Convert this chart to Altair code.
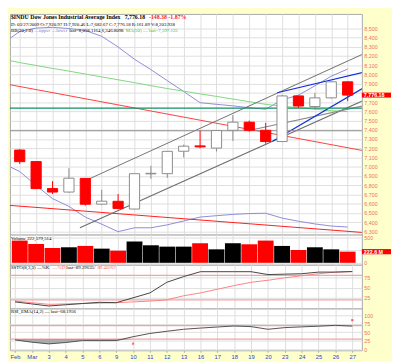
import altair as alt
import pandas as pd

# ---------------- data ----------------
labels = ["Feb", "Mar", "3", "4", "5", "6", "9", "10", "11", "12", "13",
          "16", "17", "18", "19", "20", "23", "24", "25", "26", "27"]
opens  = [7181, 7056, 6764, 6726, 6874, 6595, 6626, 6542, 6923, 6925, 7168,
          7226, 7202, 7395, 7483, 7395, 7273, 7767, 7652, 7746, 7920]
highs  = [7190, 7056, 6844, 6984, 6874, 6750, 6704, 6926, 7010, 7170, 7240,
          7392, 7397, 7560, 7500, 7476, 7780, 7770, 7800, 7925, 7925]
lows   = [7030, 6760, 6705, 6720, 6580, 6585, 6540, 6540, 6870, 6879, 7100,
          7200, 7165, 7280, 7380, 7250, 7270, 7640, 7620, 7740, 7710]
closes = [7055, 6763, 6726, 6876, 6594, 6627, 6547, 6925, 6929, 7167, 7223,
          7215, 7392, 7483, 7395, 7273, 7767, 7658, 7746, 7920, 7776.18]
volumes_m = [444, 377, 296, 310, 337, 283, 242, 424, 350, 323, 323,
             391, 269, 391, 370, 444, 337, 256, 310, 269, 222.6]
bb_upper = [8465, 8502, 8510, 8497, 8476, 8413, 8297, 8164, 8052, 7932, 7815,
            7694, 7676, 7660, 7639, 7623, 7724, 7776, 7876, 7981, 8058]
bb_lower = [6948, 6798, 6655, 6571, 6455, 6378, 6297, 6339, 6339, 6371, 6413,
            6455, 6470, 6484, 6493, 6497, 6444, 6410, 6381, 6358, 6347]
ma50 = [8128, 8097, 8065, 8036, 8004, 7973, 7942, 7911, 7878, 7847, 7819,
        7789, 7762, 7733, 7705, 7676, 7656, 7640, 7623, 7607, 7597]
# values where the overlays enter at the left edge of the panel
edge_i = -0.6
edge_upper, edge_lower, edge_ma = 8390, 7000, 8150
ssto_k = [15, 10, 5, 8, 11, 14, 13, 25, 37, 63, 77,
          89, 89, 89, 89, 82, 83, 84, 88, 88, 89.3]
ssto_d = [17, 13, 9, 10, 11, 12, 13, 15, 17, 20, 30,
          37, 46, 55, 63, 68, 74, 79, 84, 88, 89.4]
rsi = [27.6, 21, 16, 20, 25.7, 25.5, 25.7, 37, 46.7, 53, 59,
       62.5, 65.6, 68.6, 66.7, 59, 63.8, 66, 68, 70.5, 68.2]
signal_i = [7, 20]
signal_v = [16.6, 85.7]
signal_kind = ["buy", "sell"]

# drawn trend lines: (index positions, price values)
trend_names = ["red_hi", "red_lo", "ch_up", "ch_lo", "line_c", "blue_up", "blue_lo",
               "teal", "gray_h"]
trend_i = [[-1, 21], [-1, 21], [3.67, 21], [3.67, 21], [13.98, 21], [15.70, 21],
           [15.42, 21], [-1, 21], [-1, 21]]
trend_p = [[7902, 7173], [6587, 6287], [6823, 8226], [6339, 7721], [7392, 7661],
           [7802, 8025], [7276, 7858], [7635, 7635], [7390, 7390]]

price_ticks = list(range(6300, 8501, 100))
vol_ticks = [0, 250, 500]
ssto_ticks = [25, 50, 75]
rsi_ticks = [0, 25, 50, 75, 100]
ssto_lines = [20, 80]
rsi_lines = [30, 70]
last_close = 7776.18
last_volume = 222.6
hidden_price_label = 7800   # covered by the last-close box
hidden_vol_label = 250      # covered by the last-volume box

# ---------------- styles ----------------
trend_colors = ["#ff3b3b", "#ff2020", "#6e6e6e", "#6e6e6e", "#8a8a8a", "#1030d8",
                "#1030d8", "#109060", "#8c8c8c"]
trend_widths = [1, 1.2, 1, 1, 1, 1.3, 1.3, 1.6, 1.3]
W = 362
XS = alt.Scale(domain=[-0.3, 20.57], nice=False, zero=False)
GRID = "#dedede"
AXLAB = "#f07068"
FONT = "Liberation Serif"

n = len(labels)
prev = [opens[0]] + closes[:-1]
df = pd.DataFrame({"i": list(range(n)), "label": labels, "open": opens, "high": highs,
                   "low": lows, "close": closes, "vol": volumes_m, "prev": prev,
                   "k": ssto_k, "d": ssto_d, "rsi": rsi})
ov = pd.DataFrame({"i": [edge_i] + list(range(n)),
                   "bbu": [edge_upper] + bb_upper,
                   "bbl": [edge_lower] + bb_lower,
                   "ma": [edge_ma] + ma50})

rows = []
for nm, ii, pp in zip(trend_names, trend_i, trend_p):
    for a, b in zip(ii, pp):
        rows.append({"line": nm, "i": a, "p": b})
tl = pd.DataFrame(rows)

label_expr = "[" + ",".join("'%s'" % l for l in labels) + "][datum.value]"

X_HIDDEN = alt.Axis(values=list(range(n)), grid=True, gridColor=GRID, labels=False,
                    ticks=False, domain=False, title=None)
X_SHOWN = alt.Axis(values=list(range(n)), labelExpr=label_expr, grid=True, gridColor=GRID,
                   domain=False, ticks=True, tickSize=2, tickColor="#aaaaaa",
                   labelColor="#3340c8", labelFontSize=6, labelFont="Liberation Sans",
                   labelPadding=1, title=None, labelFlush=False, labelOverlap=False)


def yax(values, expr=None):
    kw = dict(orient="right", values=values, grid=True, gridColor=GRID, labelColor=AXLAB,
              labelFontSize=5.5, labelFont="Liberation Sans", ticks=False, domain=False,
              labelPadding=2, title=None, labelOverlap=False, labelFlush=False,
              labelBound=False)
    if expr:
        kw["labelExpr"] = expr
    return alt.Axis(**kw)


def txt(t, x, y, color="#000000", size=5, bold=False):
    return alt.Chart(pd.DataFrame({"t": [t]})).mark_text(
        align="left", baseline="middle", font=FONT, fontSize=size,
        fontWeight="bold" if bold else "normal", color=color
    ).encode(text="t:N", x=alt.value(x), y=alt.value(y))


# ---------------- price panel ----------------
PY = alt.Scale(domain=[6265, 8655], nice=False, zero=False)
PAX = yax(price_ticks,
          "datum.value == %d ? '' : format(datum.value, ',d')" % hidden_price_label)
xp = alt.X("i:Q", scale=XS, axis=X_HIDDEN)


def yp(f):
    return alt.Y(f, scale=PY, axis=PAX)


base = alt.Chart(df)
bands = alt.Chart(ov).transform_fold(["bbu", "bbl"], as_=["band", "v"]).mark_line(
    color="#8a8ad8", strokeWidth=1, clip=True).encode(x=xp, y=yp("v:Q"), detail="band:N")
ma_line = alt.Chart(ov).mark_line(color="#7fd67f", strokeWidth=1, clip=True).encode(
    x=xp, y=yp("ma:Q"))
trend = alt.Chart(tl).mark_line(clip=True).encode(
    x=xp, y=yp("p:Q"),
    color=alt.Color("line:N", scale=alt.Scale(domain=trend_names, range=trend_colors), legend=None),
    strokeWidth=alt.StrokeWidth("line:N", scale=alt.Scale(domain=trend_names, range=trend_widths), legend=None),
    detail="line:N")
down = "datum.close < datum.open"
wick = base.mark_rule(strokeWidth=1).encode(
    x=xp, y=yp("low:Q"), y2="high:Q",
    color=alt.condition(down, alt.value("#ff0000"), alt.value("#8a8a8a")))
body = base.mark_bar(width=10.5, strokeWidth=1).encode(
    x=xp, y=yp("open:Q"), y2="close:Q",
    fill=alt.condition(down, alt.value("#ff0000"), alt.value("#ffffff")),
    stroke=alt.condition(down, alt.value("#ff0000"), alt.value("#8a8a8a")))
lastbox_df = pd.DataFrame({"v": [last_close]})
lastbox = alt.Chart(lastbox_df).transform_calculate(
    top="datum.v + 27", bot="datum.v - 27").mark_rect(color="#ff0000").encode(
    x=alt.value(W), x2=alt.value(W + 30), y=yp("top:Q"), y2="bot:Q")
lasttxt = alt.Chart(lastbox_df).mark_text(
    align="left", baseline="middle", font="Liberation Sans", fontSize=5.5,
    fontWeight="bold", color="white").encode(
    x=alt.value(W + 2), y=yp("v:Q"), text=alt.Text("v:Q", format=",.2f"))

t1 = txt("$INDU Dow Jones Industrial Average Index", 1, 3.5, size=6, bold=True)
t1b = txt("7,776.18", 118, 3.5, size=6, bold=True)
t1c = txt("-148.38", 143, 3.5, color="#ff2020", size=6, bold=True)
t1d = txt("-1.87%", 163, 3.5, color="#ff2020", size=6, bold=True)
t2 = txt("D: 03/27/2009 O:7,920.97 H:7,920.46 L:7,682.67 C:7,776.18 R:161.89 V:8,203.928",
         1, 10)
t3a = txt("BB(20,2.0)", 1, 16.5)
t3b = txt("\u2014upper \u2014lower", 25, 16.5, color="#7a7ad0")
t3c = txt("last=8,058.1164,6,346.8098", 61, 16.5)
t3d = txt("MA(50) \u2014 last=7,597.125", 119, 16.5, color="#33bb33")

price = alt.layer(bands, ma_line, trend, wick, body, lastbox, lasttxt,
                  t1, t1b, t1c, t1d, t2, t3a, t3b, t3c, t3d).properties(width=W, height=227)

# ---------------- volume panel ----------------
VY = alt.Scale(domain=[-39, 563], nice=False, zero=False)
VAX = yax(vol_ticks, "datum.value == %d ? '' : format(datum.value, 'd')" % hidden_vol_label)


def yv(f):
    return alt.Y(f, scale=VY, axis=VAX)


vdown = "datum.close < datum.prev"
vbars = base.mark_bar(width=16.3).encode(
    x=xp, y=yv("vol:Q"), y2=alt.datum(0),
    color=alt.condition(vdown, alt.value("#ff0000"), alt.value("#000000")))
vbox_df = pd.DataFrame({"v": [last_volume]})
vbox = alt.Chart(vbox_df).transform_calculate(
    top="datum.v + 52", bot="datum.v - 52").mark_rect(color="#ff0000").encode(
    x=alt.value(W), x2=alt.value(W + 30), y=yv("top:Q"), y2="bot:Q")
vtxt = alt.Chart(vbox_df).transform_calculate(t="format(datum.v, '.1f') + ' M'").mark_text(
    align="left", baseline="middle", font="Liberation Sans", fontSize=5.5,
    fontWeight="bold", color="white").encode(
    x=alt.value(W + 2), y=yv("v:Q"), text="t:N")
vlab = txt("Volume 222,579,514", 1, 3.5)
volume = alt.layer(vbars, vbox, vtxt, vlab).properties(width=W, height=31)

# ---------------- SSTO panel ----------------
SY = alt.Scale(domain=[-1.2, 106], nice=False, zero=False)
SAX = yax(ssto_ticks)


def ys(f):
    return alt.Y(f, scale=SY, axis=SAX)


s_ref = alt.Chart(pd.DataFrame({"v": ssto_lines})).mark_rule(color="#f4a4a4", strokeWidth=1.3).encode(
    y=ys("v:Q"))
s_d = base.mark_line(color="#ff8080", strokeWidth=1).encode(x=xp, y=ys("d:Q"))
s_k = base.mark_line(color="#404040", strokeWidth=1).encode(x=xp, y=ys("k:Q"))
slab1 = txt("SSTO(8,3,3) \u2014%K", 1, 2.8)
slab2 = txt("\u2014%D", 44, 2.8, color="#ff6060")
slab3 = txt("last=89.29635/", 58, 2.8)
slab4 = txt("89.40267", 90, 2.8, color="#ff6060")
ssto = alt.layer(s_ref, s_d, s_k, slab1, slab2, slab3, slab4).properties(width=W, height=45)

# ---------------- RSI panel ----------------
RY = alt.Scale(domain=[-2.9, 120], nice=False, zero=False)
RAX = yax(rsi_ticks)
xr = alt.X("i:Q", scale=XS, axis=X_SHOWN)


def yr(f):
    return alt.Y(f, scale=RY, axis=RAX)


r_ref = alt.Chart(pd.DataFrame({"v": rsi_lines})).mark_rule(color="#f4a4a4", strokeWidth=1.3).encode(
    y=yr("v:Q"))
r_fill = base.transform_calculate(lo="min(datum.rsi, 30)").mark_area(
    color="#9a9a9a", opacity=0.8).encode(x=xr, y=yr("lo:Q"), y2=alt.datum(30))
r_line = base.mark_line(color="#505050", strokeWidth=1).encode(x=xr, y=yr("rsi:Q"))
sig = alt.Chart(pd.DataFrame({"i": signal_i, "v": signal_v, "kind": signal_kind})).mark_square(
    size=5).encode(x=xr, y=yr("v:Q"),
                   color=alt.Color("kind:N", scale=alt.Scale(domain=["buy", "sell"],
                                                             range=["#22cc22", "#ff3030"]),
                                   legend=None))
rlab = txt("RSI_EMA(14,2) \u2014 last=68.1956", 1, 2.8)
rsi_panel = alt.layer(r_ref, r_fill, r_line, sig, rlab).properties(width=W, height=43)

chart = alt.vconcat(price, volume, ssto, rsi_panel, spacing=0, bounds="flush").properties(
    background="#FFFFCC", padding=0
).configure_view(fill="white", stroke="#a8a8a8", strokeWidth=1)

chart.save("out.html", embed_options={"renderer": "svg", "actions": False})
